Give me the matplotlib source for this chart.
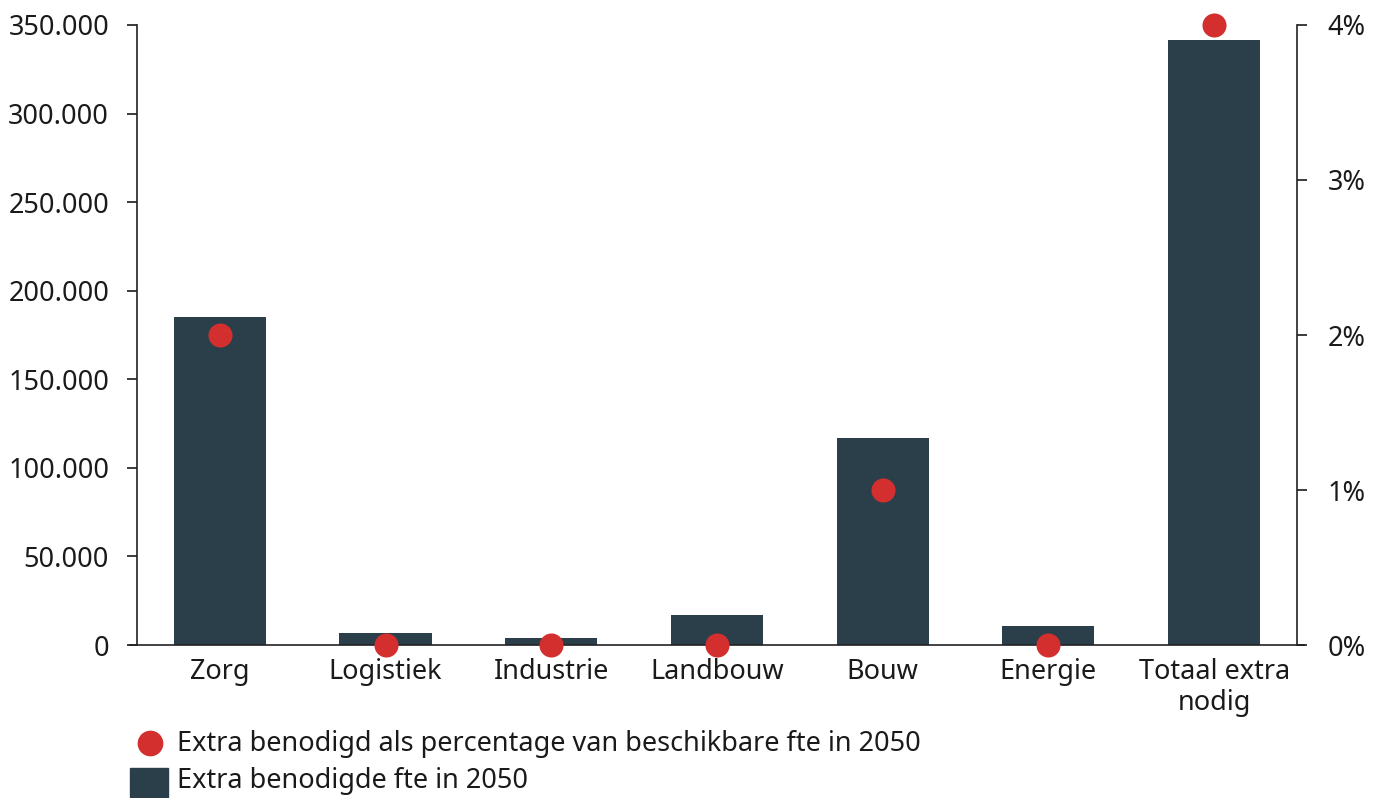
import matplotlib
matplotlib.use("Agg")
import matplotlib.pyplot as plt
from matplotlib.lines import Line2D
from matplotlib.patches import Rectangle
from matplotlib.ticker import FuncFormatter

categories = ["Zorg", "Logistiek", "Industrie", "Landbouw", "Bouw", "Energie", "Totaal extra\nnodig"]
fte_extra = [185000, 7000, 4000, 17000, 117000, 11000, 341500]
pct_extra = [2, 0, 0, 0, 1, 0, 4]
left_ticks = [0, 50000, 100000, 150000, 200000, 250000, 300000, 350000]
right_ticks = [0, 1, 2, 3, 4]

bar_color = "#2A3F4A"
dot_color = "#D32F2F"
text_color = "#1a1a1a"
fs = 19.5

plt.rcParams["font.family"] = ["Noto Sans", "DejaVu Sans"]
plt.rcParams["font.size"] = fs

fig = plt.figure(figsize=(13.82, 7.98), dpi=100)
ax = fig.add_axes([0.0991, 0.1917, 0.8394, 0.7770])
x = list(range(len(categories)))
ax.bar(x, fte_extra, width=0.556, color=bar_color, zorder=2)
ax.set_xlim(-0.5, len(categories) - 0.5)
ax.set_ylim(0, 350000)
ax.set_yticks(left_ticks)
ax.yaxis.set_major_formatter(FuncFormatter(lambda v, p: f"{int(v):,}".replace(",", ".")))
ax.set_xticks(x)
ax.set_xticklabels(categories, linespacing=1.15)
ax.tick_params(axis="x", length=0, pad=9, labelsize=fs, colors=text_color)
ax.tick_params(axis="y", length=7, width=1.2, pad=13, labelsize=fs, colors=text_color)
for s in ["top", "right", "bottom"]:
    ax.spines[s].set_visible(False)
ax.spines["left"].set_linewidth(1.2)
ax.spines["left"].set_color("#222222")

ax2 = ax.twinx()
ax2.scatter(x, pct_extra, s=300, color=dot_color, zorder=5, clip_on=False, linewidths=0)
ax2.set_ylim(0, 4)
ax2.set_yticks(right_ticks)
ax2.yaxis.set_major_formatter(FuncFormatter(lambda v, p: f"{int(v)}%"))
ax2.tick_params(axis="y", length=7, width=1.2, pad=15, labelsize=fs, colors=text_color)
for s in ["top", "left", "bottom"]:
    ax2.spines[s].set_visible(False)
ax2.spines["right"].set_linewidth(1.2)
ax2.spines["right"].set_color("#222222")

# baseline extending slightly beyond both vertical axes
ax.add_line(Line2D([-0.006, 1.006], [0, 0], transform=ax.transAxes, color="#222222",
                   lw=1.2, clip_on=False, zorder=3))
ax2.set_zorder(ax.get_zorder() + 1)
ax.patch.set_visible(False)

# legend
W, H = 1382, 798
fig.add_artist(Line2D([150 / W], [1 - 743 / H], marker="o", markersize=17.5, color=dot_color,
                      linestyle="none", transform=fig.transFigure))
fig.text(177 / W, 1 - 744 / H, "Extra benodigd als percentage van beschikbare fte in 2050",
         va="center", ha="left", fontsize=fs, color=text_color)
fig.add_artist(Rectangle((130 / W, 1 - 797 / H), 38 / W, 29 / H, color=bar_color,
                         transform=fig.transFigure))
fig.text(177 / W, 1 - 781 / H, "Extra benodigde fte in 2050",
         va="center", ha="left", fontsize=fs, color=text_color)

fig.savefig("out.png", dpi=100)
